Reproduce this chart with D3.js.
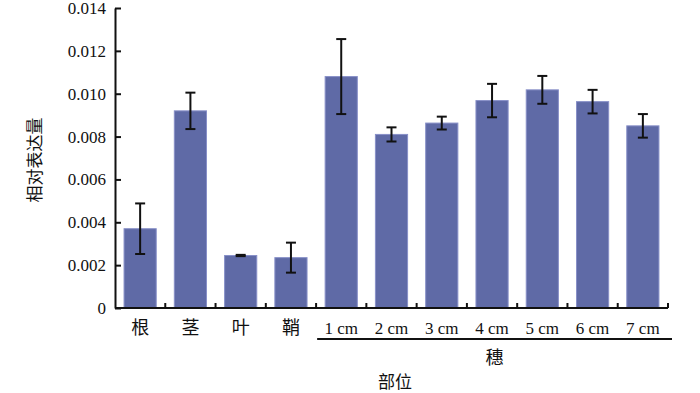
<!DOCTYPE html>
<html>
<head>
<meta charset="utf-8">
<script src="https://cdn.jsdelivr.net/npm/d3@7"></script>
<style>
  body { margin: 0; background: #fff; }
</style>
</head>
<body>
<svg width="700" height="393"></svg>
<script>
// data
var categories = ["根", "茎", "叶", "鞘", "1 cm", "2 cm", "3 cm", "4 cm", "5 cm", "6 cm", "7 cm"];
var means = [0.0037, 0.0092, 0.00245, 0.00235, 0.0108, 0.0081, 0.00863, 0.00968, 0.01018, 0.00963, 0.0085];
var errors = [0.00118, 0.00085, 0.00003, 0.0007, 0.00175, 0.00033, 0.0003, 0.00078, 0.00065, 0.00055, 0.00055];
var yTicks = [0, 0.002, 0.004, 0.006, 0.008, 0.010, 0.012, 0.014];

var SERIF = "Liberation Serif, Times New Roman, serif",
    CJK = "Noto Sans CJK SC, Noto Sans CJK JP, sans-serif";

var svg = d3.select("svg"),
    margin = {left: 115, right: 32, top: 8, bottom: 85},
    width = 700 - margin.left - margin.right,
    height = 393 - margin.top - margin.bottom;

var g = svg.append("g")
    .attr("transform", "translate(" + margin.left + "," + margin.top + ")");

var x = d3.scaleBand()
    .domain(categories)
    .range([0, width])
    .paddingInner(0.36)
    .paddingOuter(0.18);

var y = d3.scaleLinear()
    .domain([0, 0.014])
    .range([height, 0]);

// bars
g.selectAll(".bar")
    .data(categories)
    .enter().append("rect")
    .attr("class", "bar")
    .attr("x", function(d) { return x(d); })
    .attr("y", function(d, i) { return y(means[i]); })
    .attr("width", x.bandwidth())
    .attr("height", function(d, i) { return height - y(means[i]); })
    .attr("fill", "#5f6aa6")
    .attr("stroke", "#8890c8")
    .attr("stroke-width", 1);

// error bars
var eb = g.selectAll(".err")
    .data(categories)
    .enter().append("g")
    .attr("class", "err")
    .attr("stroke", "#111")
    .attr("stroke-width", 2);

eb.append("line")
    .attr("x1", function(d) { return x(d) + x.bandwidth() / 2; })
    .attr("x2", function(d) { return x(d) + x.bandwidth() / 2; })
    .attr("y1", function(d, i) { return y(means[i] + errors[i]); })
    .attr("y2", function(d, i) { return y(means[i] - errors[i]); });

[1, -1].forEach(function(s) {
    eb.append("line")
        .attr("x1", function(d) { return x(d) + x.bandwidth() / 2 - 5; })
        .attr("x2", function(d) { return x(d) + x.bandwidth() / 2 + 5; })
        .attr("y1", function(d, i) { return y(means[i] + s * errors[i]); })
        .attr("y2", function(d, i) { return y(means[i] + s * errors[i]); });
});

// y axis
var yAxis = g.append("g")
    .call(d3.axisLeft(y)
        .tickValues(yTicks)
        .tickSizeInner(-6)
        .tickSizeOuter(0)
        .tickPadding(9)
        .tickFormat(function(d) { return d === 0 ? "0" : d3.format(".3f")(d); }))
    .attr("font-family", SERIF)
    .attr("font-size", 17);
yAxis.select(".domain").attr("stroke-width", 2).attr("stroke", "#111");
yAxis.selectAll(".tick line").attr("stroke-width", 2).attr("stroke", "#111");
yAxis.selectAll(".tick text").attr("fill", "#111");

// x axis: ticks at band boundaries, pointing up
var xAxisG = g.append("g").attr("transform", "translate(0," + height + ")");
xAxisG.append("line")
    .attr("x1", 0).attr("x2", width)
    .attr("stroke", "#111").attr("stroke-width", 2);
xAxisG.selectAll(".xt")
    .data(d3.range(1, categories.length + 1))
    .enter().append("line")
    .attr("x1", function(i) { return i * width / categories.length; })
    .attr("x2", function(i) { return i * width / categories.length; })
    .attr("y1", 0).attr("y2", -5)
    .attr("stroke", "#111").attr("stroke-width", 2);

xAxisG.selectAll(".xl")
    .data(categories)
    .enter().append("text")
    .attr("x", function(d) { return x(d) + x.bandwidth() / 2; })
    .attr("y", 26)
    .attr("text-anchor", "middle")
    .attr("font-family", function(d) { return /cm/.test(d) ? SERIF : CJK; })
    .attr("font-size", function(d) { return /cm/.test(d) ? 17 : 18; })
    .attr("fill", "#111")
    .text(function(d) { return d; });

// group bracket for 穗
var first = x(categories[4]) - 8,
    last = width + 4;
xAxisG.append("line")
    .attr("x1", first).attr("x2", last)
    .attr("y1", 31).attr("y2", 31)
    .attr("stroke", "#111").attr("stroke-width", 2);
xAxisG.append("text")
    .attr("x", (first + last) / 2)
    .attr("y", 56)
    .attr("text-anchor", "middle")
    .attr("font-family", CJK)
    .attr("font-size", 18)
    .attr("fill", "#111")
    .text("穗");

// axis titles
svg.append("text")
    .attr("x", 395)
    .attr("y", 388)
    .attr("text-anchor", "middle")
    .attr("font-family", CJK)
    .attr("font-size", 17)
    .attr("fill", "#111")
    .text("部位");

svg.append("text")
    .attr("transform", "translate(41,160) rotate(-90)")
    .attr("text-anchor", "middle")
    .attr("font-family", CJK)
    .attr("font-size", 17)
    .attr("fill", "#111")
    .text("相对表达量");
</script>
</body>
</html>
